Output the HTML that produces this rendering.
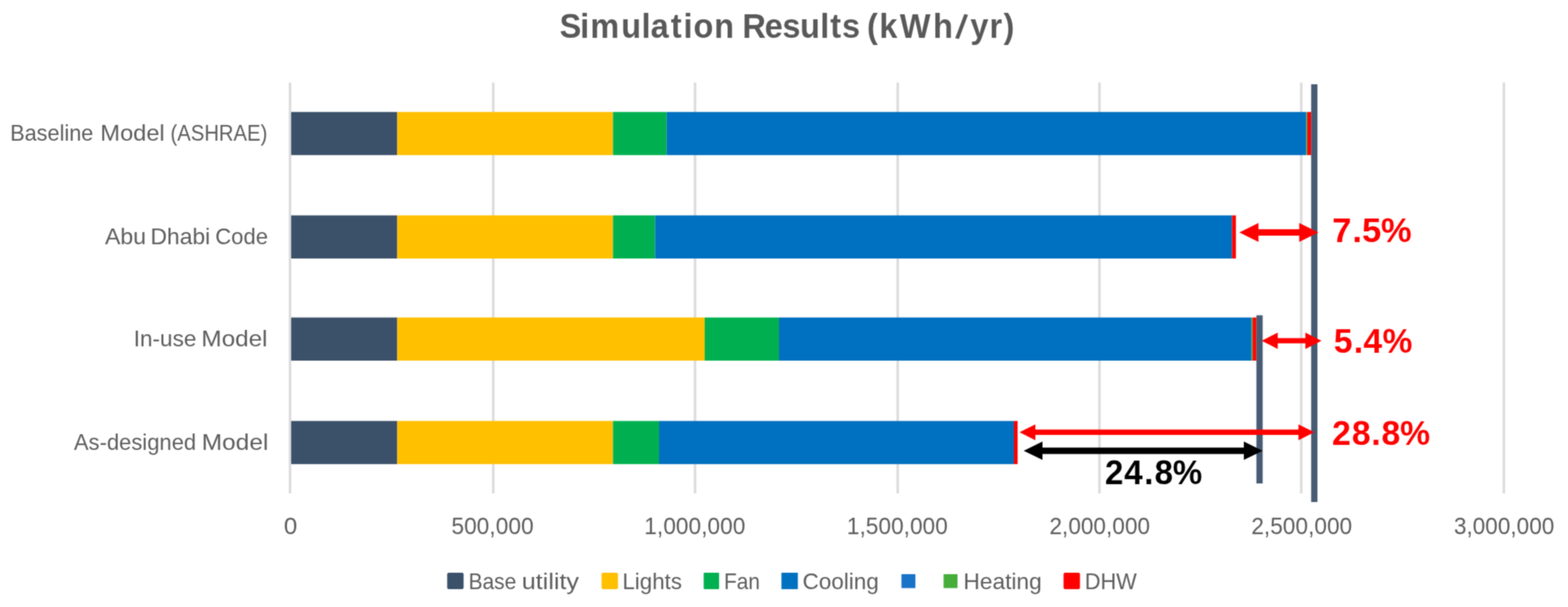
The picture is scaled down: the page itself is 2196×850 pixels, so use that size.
<!DOCTYPE html>
<html lang="en"><head><meta charset="utf-8"><title>Simulation Results (kWh/yr)</title>
<style>
html,body{margin:0;padding:0;background:#fff;}
body{width:2196px;height:850px;overflow:hidden;}
svg{display:block;}
text{font-family:"Liberation Sans",sans-serif;}
.b{font-weight:bold;}
</style></head><body>
<svg width="2196" height="850" viewBox="0 0 2196 850">
<rect x="0" y="0" width="2196" height="850" fill="#fff"/>
<defs><filter id="soft" x="0" y="0" width="2196" height="850" filterUnits="userSpaceOnUse" color-interpolation-filters="sRGB"><feConvolveMatrix order="3" kernelMatrix="0.04840 0.12320 0.04840 0.12320 0.31360 0.12320 0.04840 0.12320 0.04840" divisor="1" edgeMode="duplicate" preserveAlpha="true"/></filter></defs>
<g filter="url(#soft)">
<rect x="-10" y="-10" width="2216" height="870" fill="#fff"/>
<g stroke="#DCDCDC" stroke-width="3.6">
<line x1="406.20" y1="115.4" x2="406.20" y2="691"/>
<line x1="690.80" y1="115.4" x2="690.80" y2="691"/>
<line x1="973.40" y1="115.4" x2="973.40" y2="691"/>
<line x1="1257.30" y1="115.4" x2="1257.30" y2="691"/>
<line x1="1539.80" y1="115.4" x2="1539.80" y2="691"/>
<line x1="1822.40" y1="115.4" x2="1822.40" y2="691"/>
<line x1="2106.20" y1="115.4" x2="2106.20" y2="691"/>
</g>
<rect x="407.80" y="156.80" width="148.50" height="60.40" fill="#3B516A"/>
<rect x="556.30" y="156.80" width="302.20" height="60.40" fill="#FFC000"/>
<rect x="858.50" y="156.80" width="75.20" height="60.40" fill="#00B050"/>
<rect x="933.70" y="156.80" width="895.80" height="60.40" fill="#0070C0"/>
<rect x="1829.50" y="156.80" width="1.40" height="60.40" fill="#45AE3B"/>
<rect x="1830.90" y="156.80" width="5.40" height="60.40" fill="#FF0000"/>
<rect x="407.80" y="301.60" width="148.50" height="60.40" fill="#3B516A"/>
<rect x="556.30" y="301.60" width="302.20" height="60.40" fill="#FFC000"/>
<rect x="858.50" y="301.60" width="59.00" height="60.40" fill="#00B050"/>
<rect x="917.50" y="301.60" width="808.00" height="60.40" fill="#0070C0"/>
<rect x="1725.50" y="301.60" width="5.40" height="60.40" fill="#FF0000"/>
<rect x="407.80" y="444.60" width="148.50" height="60.40" fill="#3B516A"/>
<rect x="556.30" y="444.60" width="430.70" height="60.40" fill="#FFC000"/>
<rect x="987.00" y="444.60" width="104.00" height="60.40" fill="#00B050"/>
<rect x="1091.00" y="444.60" width="661.70" height="60.40" fill="#0070C0"/>
<rect x="1752.70" y="444.60" width="1.60" height="60.40" fill="#45AE3B"/>
<rect x="1754.30" y="444.60" width="5.30" height="60.40" fill="#FF0000"/>
<rect x="407.80" y="589.50" width="148.50" height="60.40" fill="#3B516A"/>
<rect x="556.30" y="589.50" width="302.20" height="60.40" fill="#FFC000"/>
<rect x="858.50" y="589.50" width="64.50" height="60.40" fill="#00B050"/>
<rect x="923.00" y="589.50" width="497.00" height="60.40" fill="#0070C0"/>
<rect x="1420.00" y="589.50" width="5.20" height="60.40" fill="#FF0000"/>
<rect x="1836.3" y="118" width="8.8" height="585" fill="#475B73"/>
<rect x="1759.6" y="441.5" width="8.8" height="235.5" fill="#475B73"/>
<polygon fill="#FF0000" points="1735.70,325.50 1762.50,312.35 1762.50,321.10 1819.60,321.10 1819.60,312.35 1846.40,325.50 1819.60,338.65 1819.60,329.90 1762.50,329.90 1762.50,338.65"/>
<polygon fill="#FF0000" points="1767.00,477.20 1789.50,465.70 1789.50,473.60 1828.20,473.60 1828.20,465.70 1850.70,477.20 1828.20,488.70 1828.20,480.80 1789.50,480.80 1789.50,488.70"/>
<polygon fill="#000000" points="1433.70,631.20 1460.00,618.30 1460.00,626.70 1742.00,626.70 1742.00,618.30 1768.30,631.20 1742.00,644.10 1742.00,635.70 1460.00,635.70 1460.00,644.10"/>
<polygon fill="#FF0000" points="1427.80,605.30 1450.00,594.20 1450.00,601.55 1818.50,601.55 1818.50,594.20 1840.70,605.30 1818.50,616.40 1818.50,609.05 1450.00,609.05 1450.00,616.40"/>
<rect x="626.30" y="802.00" width="23.00" height="23.00" rx="2.2" fill="#3B516A"/>
<rect x="842.50" y="802.00" width="23.00" height="23.00" rx="2.2" fill="#FFC000"/>
<rect x="985.50" y="802.00" width="21.60" height="23.00" rx="1.2" fill="#00B050"/>
<rect x="1094.40" y="802.00" width="23.00" height="23.00" rx="0.6" fill="#0070C0"/>
<rect x="1262.50" y="804.00" width="19.50" height="19.50" rx="0" fill="#1873C9"/>
<rect x="1321.50" y="804.00" width="19.50" height="19.50" rx="0" fill="#45AE3B"/>
<rect x="1489.50" y="802.00" width="23.00" height="23.00" rx="2.2" fill="#FF0000"/>
<text y="197.40" font-size="32.00" fill="#5E5E5E"><tspan x="14.15" textLength="116.64" lengthAdjust="spacingAndGlyphs">Baseline</tspan> <tspan x="140.63" textLength="90.09" lengthAdjust="spacingAndGlyphs">Model</tspan> <tspan x="238.86" textLength="135.50" lengthAdjust="spacingAndGlyphs">(ASHRAE)</tspan></text>
<text y="342.40" font-size="32.00" fill="#5E5E5E"><tspan x="146.96" textLength="57.71" lengthAdjust="spacingAndGlyphs">Abu</tspan> <tspan x="210.72" textLength="83.69" lengthAdjust="spacingAndGlyphs">Dhabi</tspan> <tspan x="301.57" textLength="73.73" lengthAdjust="spacingAndGlyphs">Code</tspan></text>
<text y="485.40" font-size="32.00" fill="#5E5E5E"><tspan x="187.23" textLength="87.86" lengthAdjust="spacingAndGlyphs">In-use</tspan> <tspan x="282.06" textLength="92.63" lengthAdjust="spacingAndGlyphs">Model</tspan></text>
<text y="630.20" font-size="32.00" fill="#5E5E5E"><tspan x="103.47" textLength="171.22" lengthAdjust="spacingAndGlyphs">As-designed</tspan> <tspan x="282.44" textLength="93.38" lengthAdjust="spacingAndGlyphs">Model</tspan></text>
<text y="747.80" font-size="33.00" fill="#5E5E5E"><tspan x="397.43" textLength="18.87" lengthAdjust="spacingAndGlyphs">0</tspan></text>
<text y="747.80" font-size="33.00" fill="#5E5E5E"><tspan x="632.16" textLength="115.26" lengthAdjust="spacingAndGlyphs">500,000</tspan></text>
<text y="747.80" font-size="33.00" fill="#5E5E5E"><tspan x="902.36" textLength="141.57" lengthAdjust="spacingAndGlyphs">1,000,000</tspan></text>
<text y="747.80" font-size="33.00" fill="#5E5E5E"><tspan x="1186.12" textLength="141.32" lengthAdjust="spacingAndGlyphs">1,500,000</tspan></text>
<text y="747.80" font-size="33.00" fill="#5E5E5E"><tspan x="1469.71" textLength="140.97" lengthAdjust="spacingAndGlyphs">2,000,000</tspan></text>
<text y="747.80" font-size="33.00" fill="#5E5E5E"><tspan x="1752.45" textLength="141.33" lengthAdjust="spacingAndGlyphs">2,500,000</tspan></text>
<text y="747.80" font-size="33.00" fill="#5E5E5E"><tspan x="2036.13" textLength="140.80" lengthAdjust="spacingAndGlyphs">3,000,000</tspan></text>
<text y="825.00" font-size="32.00" fill="#5E5E5E"><tspan x="656.13" textLength="67.06" lengthAdjust="spacingAndGlyphs">Base</tspan> <tspan x="730.75" textLength="80.15" lengthAdjust="spacingAndGlyphs">utility</tspan></text>
<text y="825.00" font-size="32.00" fill="#5E5E5E"><tspan x="871.74" textLength="83.31" lengthAdjust="spacingAndGlyphs">Lights</tspan></text>
<text y="825.00" font-size="32.00" fill="#5E5E5E"><tspan x="1013.89" textLength="50.56" lengthAdjust="spacingAndGlyphs">Fan</tspan></text>
<text y="825.00" font-size="32.00" fill="#5E5E5E"><tspan x="1123.94" textLength="106.80" lengthAdjust="spacingAndGlyphs">Cooling</tspan></text>
<text y="825.00" font-size="32.00" fill="#5E5E5E"><tspan x="1349.18" textLength="109.86" lengthAdjust="spacingAndGlyphs">Heating</tspan></text>
<text y="825.00" font-size="32.00" fill="#5E5E5E"><tspan x="1519.29" textLength="72.87" lengthAdjust="spacingAndGlyphs">DHW</tspan></text>
<text class="b" transform="scale(0.9500 1)" y="52.60" font-size="47.90" fill="#595959"><tspan x="825.13 855.26 870.28 915.80 945.76 959.17 989.08 1007.74 1022.33 1052.78">Simulation</tspan> <tspan x="1094.60 1127.37 1153.35 1179.38 1209.32 1224.03 1241.45">Results</tspan> <tspan x="1278.20 1296.26 1326.52 1375.60 1407.90 1430.51 1458.61 1479.43" rotate="0 0 0 0 11 0 0 0">(kWh/yr)</tspan></text>
<text class="b" transform="scale(0.9885 1)" y="338.90" font-size="49.00" fill="#FF0000"><tspan x="1887.41 1916.04 1929.69 1956.41">7.5%</tspan></text>
<text class="b" transform="scale(0.9602 1)" y="494.50" font-size="49.00" fill="#FF0000"><tspan x="1945.43 1974.59 1988.77 2016.60">5.4%</tspan></text>
<text class="b" transform="scale(0.9670 1)" y="623.30" font-size="49.00" fill="#FF0000"><tspan x="1929.28 1957.78 1986.14 2000.79 2027.79">28.8%</tspan></text>
<text class="b" transform="scale(0.9463 1)" y="678.20" font-size="49.00" fill="#000000"><tspan x="1635.31 1663.80 1693.38 1708.66 1735.79">24.8%</tspan></text>
</g>
</svg>
</body></html>
